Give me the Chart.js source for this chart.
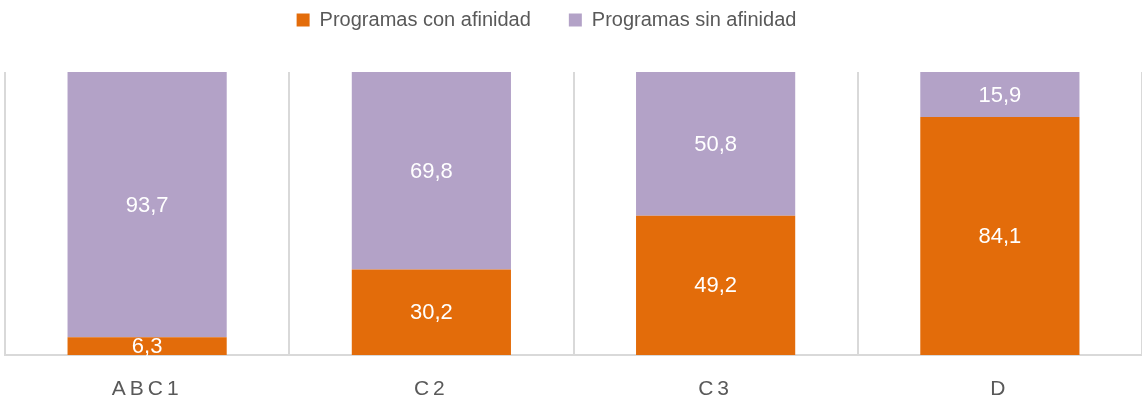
<!DOCTYPE html>
<html>
<head>
<meta charset="utf-8">
<script src="https://cdn.jsdelivr.net/npm/chart.js@4/dist/chart.umd.min.js"></script>
<style>
  html, body { margin: 0; padding: 0; background: #fff; }
  #wrap { width: 1142px; height: 405px; }
</style>
</head>
<body>
<div id="wrap"><canvas id="bar-chart"></canvas></div>
<script>
// categories and series
const categories = ["ABC1", "C2", "C3", "D"];
const conAfinidad = [6.3, 30.2, 49.2, 84.1];
const sinAfinidad = [93.7, 69.8, 50.8, 15.9];
const seriesNames = ["Programas con afinidad", "Programas sin afinidad"];

const FONT = "'Liberation Sans', Arial, sans-serif";

// white value labels in the middle of every segment
const valueLabels = {
  id: 'valueLabels',
  afterDatasetsDraw(chart) {
    const ctx = chart.ctx;
    ctx.save();
    ctx.font = "22px " + FONT;
    ctx.fillStyle = "#ffffff";
    ctx.textAlign = "center";
    ctx.textBaseline = "middle";
    chart.data.datasets.forEach((ds, i) => {
      chart.getDatasetMeta(i).data.forEach((bar, j) => {
        const p = bar.getCenterPoint();
        ctx.fillText(String(ds.data[j]).replace('.', ','), p.x, p.y + 1);
      });
    });
    ctx.restore();
  }
};

// legend block a fixed height, so the plot starts where the original does
const legendHeight = {
  id: 'legendHeight',
  beforeInit(chart) {
    const lg = chart.legend;
    const fit = lg.fit;
    lg.fit = function () {
      fit.bind(lg)();
      this.height = 72;
    };
    const draw = lg.draw;
    lg.draw = function () {
      const c = chart.ctx;
      c.save();
      c.translate(-27, -28);
      draw.bind(lg)();
      c.restore();
    };
  },
  // spaced out category letters
  afterUpdate(chart) {
    const s = chart.scales.x;
    if (!s._spaced) {
      const orig = s.drawLabels.bind(s);
      s.drawLabels = function (area) {
        this.ctx.save();
        this.ctx.letterSpacing = "4px";
        orig(area);
        this.ctx.restore();
      };
      s._spaced = true;
    }
  }
};

var ctx = document.getElementById("bar-chart");
var barChart = new Chart(ctx, {
  type: 'bar',
  data: {
    labels: categories,
    datasets: [{
      label: seriesNames[0],
      data: conAfinidad,
      backgroundColor: "rgb(227, 108, 10)",
      barPercentage: 0.56,
      categoryPercentage: 1
    }, {
      label: seriesNames[1],
      data: sinAfinidad,
      backgroundColor: "rgb(179, 162, 199)",
      barPercentage: 0.56,
      categoryPercentage: 1
    }]
  },
  plugins: [valueLabels, legendHeight],
  options: {
    responsive: true,
    maintainAspectRatio: false,
    animation: false,
    layout: { padding: { left: 5, right: 0, top: 0, bottom: 0 } },
    plugins: {
      tooltip: { enabled: false },
      legend: {
        display: true,
        position: 'top',
        labels: {
          boxWidth: 13,
          boxHeight: 13,
          padding: 38,
          color: "#595959",
          font: { family: FONT, size: 20 }
        }
      }
    },
    scales: {
      x: {
        stacked: true,
        afterFit(scale) { scale.height = 50; },
        grid: { color: "#d9d9d9", lineWidth: 2, drawTicks: false, offset: true },
        border: { display: true, color: "#d9d9d9", width: 2 },
        ticks: {
          color: "#595959",
          padding: 22,
          font: { family: FONT, size: 21 }
        }
      },
      y: {
        stacked: true,
        min: 0,
        max: 100,
        display: false
      }
    }
  }
});
</script>
</body>
</html>
